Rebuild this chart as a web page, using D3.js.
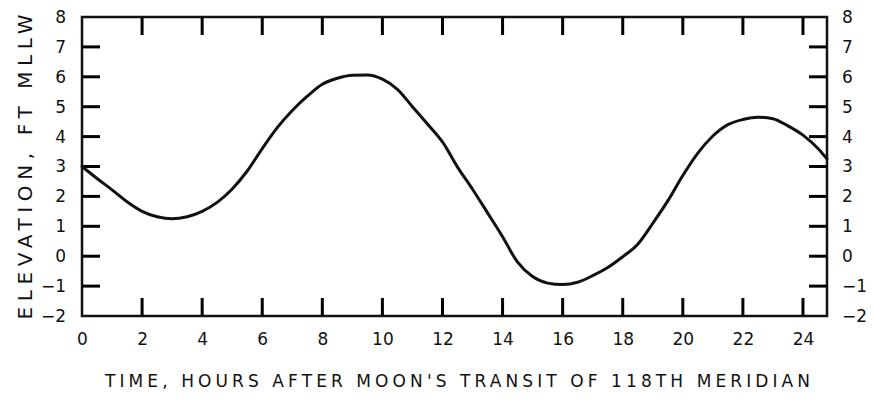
<!DOCTYPE html>
<html>
<head>
<meta charset="utf-8">
<script src="https://cdn.jsdelivr.net/npm/d3@7"></script>
<style>
  html, body { margin: 0; padding: 0; background: #fff; }
  svg { display: block; }
</style>
</head>
<body>
<svg id="chart" width="873" height="400"></svg>
<script>
// ---- data ----
const hours = [0, 0.5, 1, 1.5, 2, 2.5, 3, 3.5, 4, 4.5, 5, 5.5, 6, 6.5, 7, 7.5, 8, 8.5, 9, 9.5,
  10, 10.5, 11, 11.5, 12, 12.5, 13, 13.5, 14, 14.5, 15, 15.5, 16, 16.5, 17, 17.5, 18, 18.5,
  19, 19.5, 20, 20.5, 21, 21.5, 22, 22.5, 23, 23.5, 24, 24.5, 24.8];
const elevation = [3.0, 2.6, 2.22, 1.82, 1.5, 1.32, 1.25, 1.32, 1.5, 1.8, 2.25, 2.85, 3.6, 4.3,
  4.87, 5.35, 5.75, 5.95, 6.05, 6.06, 5.92, 5.58, 5.0, 4.42, 3.82, 2.98, 2.24, 1.45, 0.65, -0.2,
  -0.68, -0.9, -0.95, -0.87, -0.65, -0.38, -0.02, 0.4, 1.1, 1.85, 2.7, 3.45, 4.02, 4.4, 4.57,
  4.65, 4.6, 4.36, 4.05, 3.6, 3.25];
const xTicks = [0, 2, 4, 6, 8, 10, 12, 14, 16, 18, 20, 22, 24];
const yTicks = [-2, -1, 0, 1, 2, 3, 4, 5, 6, 7, 8];
const xDomain = [0, 24.8];
const yDomain = [-2, 8];
const xTitle = "TIME, HOURS AFTER MOON'S TRANSIT OF 118TH MERIDIAN";
const yTitle = "ELEVATION, FT MLLW";

// ---- layout ----
const L = 82, R = 827, T = 17, B = 316;
const INK = "#000000";
const FONT = "DejaVu Sans, Liberation Sans, sans-serif";
const svg = d3.select("#chart");
const x = d3.scaleLinear().domain(xDomain).range([L, R]);
const y = d3.scaleLinear().domain(yDomain).range([B, T]);
const tickLen = 18, tickW = 3;

function styleAxis(g) {
  g.select(".domain").remove();
  g.selectAll(".tick line").remove();
  g.selectAll(".tick text").attr("fill", "#111").attr("font-size", 17)
    .attr("font-family", FONT);
}

// axis labels
svg.append("g").attr("transform", `translate(0,${B})`)
  .call(d3.axisBottom(x).tickValues(xTicks).tickSize(0).tickPadding(17).tickFormat(d3.format("d")))
  .call(styleAxis);
svg.append("g").attr("transform", `translate(${L},0)`)
  .call(d3.axisLeft(y).tickValues(yTicks).tickSize(0).tickPadding(16).tickFormat(d3.format("d")))
  .call(styleAxis);
svg.append("g").attr("transform", `translate(${R},0)`)
  .call(d3.axisRight(y).tickValues(yTicks).tickSize(0).tickPadding(15).tickFormat(d3.format("d")))
  .call(styleAxis);

// frame
svg.append("rect")
  .attr("x", L).attr("y", T).attr("width", R - L).attr("height", B - T)
  .attr("fill", "none").attr("stroke", "#111").attr("stroke-width", 2.5);

// inward tick marks on all four sides
const xt = xTicks.filter(d => d > xDomain[0]);
const yt = yTicks.filter(d => d > yDomain[0] && d < yDomain[1]);
const tg = svg.append("g").attr("fill", INK);
tg.selectAll("rect.xb").data(xt).join("rect").attr("class", "xb")
  .attr("x", d => x(d) - tickW / 2).attr("y", B - tickLen).attr("width", tickW).attr("height", tickLen);
tg.selectAll("rect.xt").data(xt).join("rect").attr("class", "xt")
  .attr("x", d => x(d) - tickW / 2).attr("y", T).attr("width", tickW).attr("height", tickLen);
tg.selectAll("rect.yl").data(yt).join("rect").attr("class", "yl")
  .attr("x", L).attr("y", d => y(d) - tickW / 2).attr("width", tickLen).attr("height", tickW);
tg.selectAll("rect.yr").data(yt).join("rect").attr("class", "yr")
  .attr("x", R - tickLen).attr("y", d => y(d) - tickW / 2).attr("width", tickLen).attr("height", tickW);

// curve
const pts = hours.map((h, i) => [h, elevation[i]]);
svg.append("path")
  .datum(pts)
  .attr("fill", "none").attr("stroke", "#111").attr("stroke-width", 3)
  .attr("stroke-linejoin", "round").attr("stroke-linecap", "round")
  .attr("d", d3.line().x(d => x(d[0])).y(d => y(d[1])).curve(d3.curveMonotoneX));

// titles
svg.append("text")
  .attr("x", 457.5).attr("y", 387)
  .attr("text-anchor", "middle")
  .attr("font-family", FONT)
  .attr("font-size", 17).attr("fill", "#111")
  .attr("textLength", 705).attr("lengthAdjust", "spacing")
  .text(xTitle);

svg.append("text")
  .attr("transform", `translate(32,167) rotate(-90)`)
  .attr("text-anchor", "middle")
  .attr("font-family", FONT)
  .attr("font-size", 20).attr("fill", "#111")
  .attr("textLength", 305).attr("lengthAdjust", "spacing")
  .text(yTitle);
</script>
</body>
</html>
